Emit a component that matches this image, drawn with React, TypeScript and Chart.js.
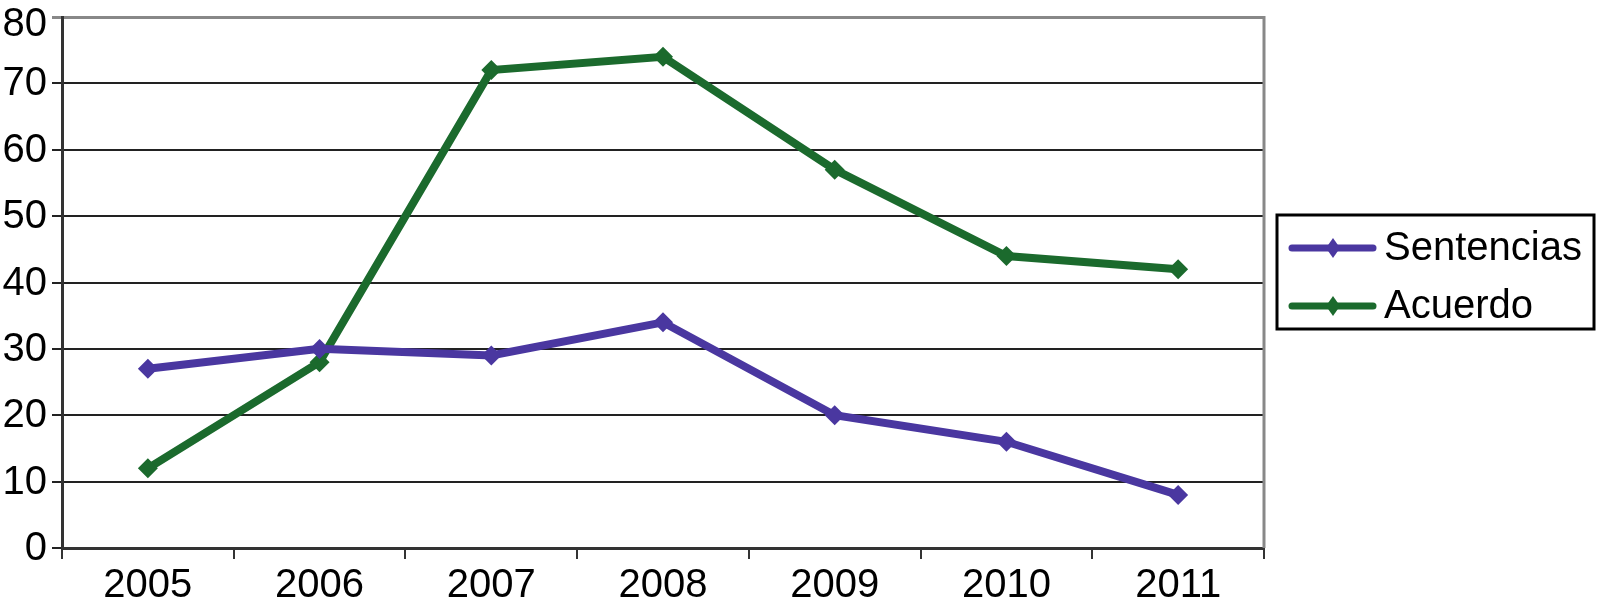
import React, { useEffect, useRef } from "react";
import { Chart, registerables } from "chart.js";

Chart.register(...registerables);

const categories = ["2005", "2006", "2007", "2008", "2009", "2010", "2011"];
const sentencias = [27, 30, 29, 34, 20, 16, 8];
const acuerdo = [12, 28, 72, 74, 57, 44, 42];
const seriesNames = ["Sentencias", "Acuerdo"];
const seriesColors = ["#4a37a0", "#1b6a2d"];
const yMin = 0;
const yMax = 80;
const yStep = 10;

const FONT = "'Liberation Sans', Arial, sans-serif";

const framePlugin = {
  id: "frame",
  afterDraw(chart: any) {
    const { ctx, chartArea } = chart;
    const yScale = chart.scales.y;
    ctx.save();
    // y tick labels (top one nudged inside the canvas, as in the original)
    ctx.font = `40px ${FONT}`;
    ctx.fillStyle = "#000";
    ctx.textAlign = "right";
    ctx.textBaseline = "middle";
    yScale.ticks.forEach((t: any) => {
      const py = yScale.getPixelForValue(t.value);
      ctx.fillText(String(t.value), chartArea.left - 15, Math.max(py, chartArea.top + 7) + 1);
    });
    // right border
    ctx.strokeStyle = "#888888";
    ctx.lineWidth = 3;
    ctx.beginPath();
    ctx.moveTo(chartArea.right, chartArea.top - 1);
    ctx.lineTo(chartArea.right, chartArea.bottom);
    ctx.stroke();
    // legend
    const bx = 1277, by = 215, bw = 317, bh = 114;
    ctx.strokeStyle = "#000";
    ctx.lineWidth = 3;
    ctx.strokeRect(bx, by, bw, bh);
    const rows = [248, 306];
    ctx.textAlign = "left";
    rows.forEach((y, i) => {
      ctx.strokeStyle = seriesColors[i];
      ctx.lineWidth = 7;
      ctx.lineCap = "round";
      ctx.beginPath();
      ctx.moveTo(1292, y);
      ctx.lineTo(1373, y);
      ctx.stroke();
      ctx.fillStyle = seriesColors[i];
      ctx.beginPath();
      ctx.moveTo(1333, y - 10);
      ctx.lineTo(1340, y);
      ctx.lineTo(1333, y + 10);
      ctx.lineTo(1326, y);
      ctx.closePath();
      ctx.fill();
      ctx.fillStyle = "#000";
      ctx.fillText(seriesNames[i], 1384, y + 1);
    });
    ctx.restore();
  },
};

export default function App() {
  const ref = useRef<HTMLCanvasElement | null>(null);
  useEffect(() => {
    if (!ref.current) return;
    const mk = (i: number, data: number[]) => ({
      label: seriesNames[i],
      data,
      borderColor: seriesColors[i],
      backgroundColor: seriesColors[i],
      borderWidth: 8,
      pointStyle: "rectRot",
      pointRadius: 10,
      pointBorderWidth: 0,
      tension: 0,
    });
    const chart = new Chart(ref.current, {
      type: "line",
      data: {
        labels: categories,
        datasets: [mk(0, sentencias), mk(1, acuerdo)],
      },
      options: {
        animation: false,
        responsive: false,
        maintainAspectRatio: false,
        layout: { padding: { left: 0, top: 0, right: 334, bottom: 0 } },
        plugins: { legend: { display: false }, tooltip: { enabled: false } },
        scales: {
          x: {
            offset: true,
            grid: {
              offset: true,
              drawOnChartArea: false,
              drawTicks: true,
              tickLength: 11,
              color: "#333",
              lineWidth: 2,
            },
            border: { display: true, color: "#333", width: 3 },
            ticks: { color: "#000", font: { family: FONT, size: 40 }, padding: 3 },
            afterFit: (s: any) => {
              s.height = 62;
            },
          },
          y: {
            min: yMin,
            max: yMax,
            ticks: {
              stepSize: yStep,
              color: "rgba(0,0,0,0)",
              font: { family: FONT, size: 40, lineHeight: 0.6 },
              padding: 5,
            },
            grid: {
              tickLength: 10,
              color: (c: any) => (c.tick && c.tick.value === yMax ? "#888888" : "#222"),
              lineWidth: (c: any) => (c.tick && c.tick.value === yMax ? 3 : 2),
            },
            border: { display: true, color: "#333", width: 3 },
            afterFit: (s: any) => {
              s.width = 62;
            },
          },
        },
      },
      plugins: [framePlugin],
    });
    return () => chart.destroy();
  }, []);
  return (
    <div style={{ position: "fixed", left: 0, top: 0, width: 1598, height: 610, background: "#fff" }}>
      <canvas ref={ref} width={1598} height={610} style={{ width: 1598, height: 610 }} />
    </div>
  );
}
